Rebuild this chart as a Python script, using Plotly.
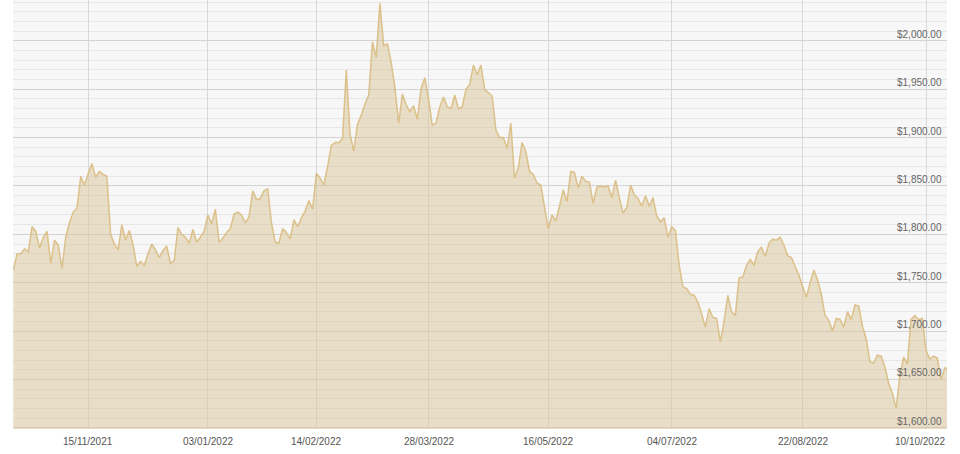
import pandas as pd
import plotly.graph_objects as go

# ---- data -------------------------------------------------------------
start_date = "2021-10-18"
end_date = "2022-10-18"
closed_days = ["2021-11-25", "2021-12-24", "2021-12-31", "2022-01-17",
               "2022-04-15", "2022-04-18", "2022-05-02", "2022-05-30",
               "2022-06-20", "2022-09-05", "2022-09-19"]

prices = [
    1763, 1780, 1780, 1785, 1782, 1808, 1803, 1786, 1797, 1803,
    1770, 1794, 1789, 1765, 1797, 1812, 1823, 1827, 1860, 1851,
    1863, 1873, 1859, 1865, 1862, 1860, 1800, 1790, 1784, 1810,
    1794, 1804, 1789, 1767, 1772, 1768, 1780, 1790, 1784, 1776,
    1783, 1788, 1770, 1773, 1807, 1800, 1797, 1791, 1805, 1792,
    1797, 1803, 1820, 1811, 1826, 1792, 1796, 1802, 1806, 1821,
    1823, 1820, 1812, 1818, 1845, 1836, 1837, 1845, 1847, 1812,
    1792, 1791, 1806, 1802, 1795, 1815, 1808, 1817, 1824, 1835,
    1826, 1863, 1858, 1851, 1870, 1892, 1895, 1895, 1899, 1970,
    1904, 1886, 1914, 1923, 1935, 1944, 1999, 1983, 2039, 1995,
    1997, 1978, 1952, 1915, 1945, 1934, 1927, 1933, 1919, 1951,
    1962, 1940, 1913, 1915, 1932, 1942, 1932, 1930, 1944, 1930,
    1932, 1950, 1955, 1975, 1965, 1975, 1950, 1946, 1943, 1908,
    1900, 1900, 1889, 1915, 1858, 1869, 1895, 1886, 1865, 1862,
    1853, 1851, 1828, 1806, 1820, 1814, 1829, 1846, 1834, 1865,
    1864, 1848, 1860, 1855, 1854, 1832, 1849, 1850, 1849, 1850,
    1838, 1856, 1838, 1822, 1828, 1851, 1841, 1837, 1829, 1840,
    1829, 1838, 1819, 1813, 1817, 1797, 1808, 1804, 1768, 1746,
    1744, 1738, 1737, 1730, 1718, 1704, 1723, 1714, 1713, 1689,
    1710, 1737, 1720, 1716, 1755, 1756, 1768, 1774, 1768, 1782,
    1787, 1777, 1791, 1795, 1794, 1797, 1789, 1778, 1776, 1767,
    1758, 1746, 1735, 1750, 1763, 1753, 1738, 1716, 1711, 1700,
    1713, 1712, 1704, 1720, 1712, 1727, 1726, 1705, 1692, 1668,
    1667, 1675, 1674, 1663, 1646, 1636, 1620, 1654, 1673, 1666,
    1712, 1716, 1712, 1713, 1680, 1671, 1674, 1672, 1650, 1662,
    1661,
]

tick_dates = ["2021-11-15", "2022-01-03", "2022-02-14", "2022-03-28",
              "2022-05-16", "2022-07-04", "2022-08-22", "2022-10-10"]
tick_labels = ["15/11/2021", "03/01/2022", "14/02/2022", "28/03/2022",
               "16/05/2022", "04/07/2022", "22/08/2022", "10/10/2022"]

y_ticks = [1600, 1650, 1700, 1750, 1800, 1850, 1900, 1950, 2000]
y_labels = ["$1,600.00", "$1,650.00", "$1,700.00", "$1,750.00", "$1,800.00",
            "$1,850.00", "$1,900.00", "$1,950.00", "$2,000.00"]

# ---- build ------------------------------------------------------------
FONT = "Liberation Sans, Arial, sans-serif"

days = [d.strftime("%Y-%m-%d") for d in pd.bdate_range(start_date, end_date)]
days = [d for d in days if d not in closed_days]
n = min(len(days), len(prices))
days = days[:n]
vals = prices[:n]

fig = go.Figure()
fig.add_trace(go.Scatter(
    x=days, y=vals, mode="lines",
    line=dict(color="rgba(216,186,124,0.85)", width=1.5),
    fill="tozeroy", fillcolor="rgba(218,195,150,0.5)",
    hoverinfo="skip", showlegend=False,
))

# price labels, sitting just above their gridlines at the right edge
for v, lab in zip(y_ticks, y_labels):
    fig.add_annotation(
        x=1, xref="paper", xanchor="right", xshift=-3,
        y=v, yref="y", yanchor="bottom", yshift=-1,
        text=lab, showarrow=False,
        font=dict(family=FONT, size=10, color="#666"),
    )

# date labels below the plot; the last one is kept inside the plot width
for k, (d, lab) in enumerate(zip(tick_dates, tick_labels)):
    last = k == len(tick_dates) - 1
    fig.add_annotation(
        x=1 if last else d, xref="paper" if last else "x",
        xanchor="right" if last else "center",
        y=0, yref="paper", yanchor="top", yshift=-5,
        text=lab, showarrow=False,
        font=dict(family=FONT, size=10, color="#555"),
    )

fig.update_layout(
    width=960, height=454,
    margin=dict(l=13, r=13, t=0, b=25),
    paper_bgcolor="white",
    plot_bgcolor="#f7f7f7",
    font=dict(family=FONT, size=10, color="#666"),
    xaxis=dict(
        type="category",
        range=[-0.1, 249.6],
        tickmode="array", tickvals=tick_dates,
        showticklabels=False,
        showgrid=True, gridcolor="#d9d9d9", gridwidth=1,
        ticks="", showline=False, zeroline=False,
    ),
    yaxis=dict(
        range=[1598.7, 2042.3],
        side="right",
        tickmode="array", tickvals=y_ticks,
        showticklabels=False,
        showgrid=True, gridcolor="#d3d3d3", gridwidth=1,
        minor=dict(dtick=10, tick0=1600, showgrid=True,
                   gridcolor="#e7e7e7", gridwidth=1),
        ticks="", showline=False, zeroline=False,
    ),
)

fig.write_html(
    "out.html",
    config={"displayModeBar": False},
    post_script="document.body.style.margin='0';document.body.style.padding='0';",
)
